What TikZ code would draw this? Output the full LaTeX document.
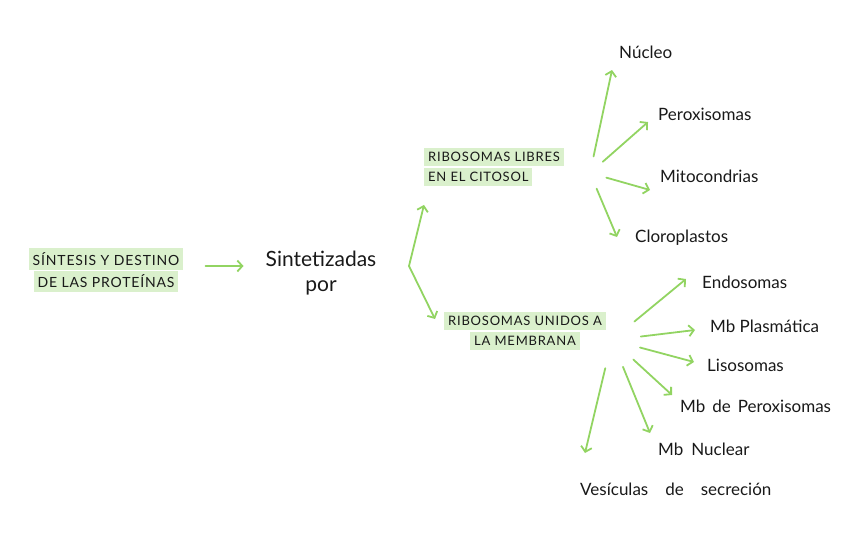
\documentclass[tikz,border=0pt]{standalone}
\usepackage{fontspec}
\setmainfont{Lato}
\newfontfamily\capsfont[LetterSpace=6]{Lato}
\usetikzlibrary{arrows.meta}

\definecolor{leaf}{RGB}{146,212,98}
\definecolor{marker}{RGB}{218,240,204}
\definecolor{ink}{RGB}{25,25,25}
\setlength{\fboxsep}{4pt}
\newcommand{\hilite}[1]{\colorbox{marker}{#1}}

\begin{document}
\begin{tikzpicture}[x=1pt, y=-1pt, >={Straight Barb[length=5pt,width=11pt]},
    caps/.style={font=\capsfont\fontsize{13}{20}\selectfont, text=ink, align=center, inner sep=0pt},
    hand/.style={font=\fontsize{17}{23}\selectfont, text=ink, anchor=west, inner sep=0pt},
    link/.style={->, draw=leaf, line width=1.8pt, line cap=round}]
    \useasboundingbox (0,0) rectangle (848,544);

    \node[caps, font=\capsfont\fontsize{14}{21}\selectfont] (T) at (106,270) {\hilite{SÍNTESIS Y DESTINO}\\\hilite{DE LAS PROTEÍNAS}};
    \node[hand, anchor=center, align=center, font=\fontsize{21}{25}\selectfont] (S) at (321,273) {Sintetizadas\\por};
    \node[caps, align=left] (L) at (494,167) {\hilite{RIBOSOMAS LIBRES}\\\hilite{EN EL CITOSOL}};
    \node[caps] (U) at (525,331) {\hilite{RIBOSOMAS UNIDOS A}\\\hilite{LA MEMBRANA}};

    \node[hand] (Nu) at (619,52) {Núcleo};
    \node[hand] (Pe) at (658,114) {Peroxisomas};
    \node[hand] (Mi) at (660,176) {Mitocondrias};
    \node[hand] (Cl) at (635,238) {Cloroplastos};

    \node[hand] (En) at (702,282) {Endosomas};
    \node[hand] (Pl) at (710,326) {Mb Plasmática};
    \node[hand] (Li) at (707,365) {Lisosomas};
    \node[hand] (MP) at (680,406) {\spaceskip=7pt Mb de Peroxisomas};
    \node[hand] (MN) at (658,449) {\spaceskip=8pt Mb Nuclear};
    \node[hand] (Ve) at (580,489) {\spaceskip=17pt Vesículas de secreción};

    \coordinate (J) at (409,266);
    \coordinate (HL) at (590,173);
    \coordinate (HU) at (612,340);

    \draw[link, shorten <=22pt, shorten >=22pt] ([yshift=4pt]T.east) -- ([yshift=4pt]T.east -| S.west);

    % bracket
    \draw[link] (J) -- ([yshift=-19pt]L.south west);
    \draw[link] (J) -- ([shift={(-9,-12)}]U.west);

    % libres
    \draw[link, shorten <=17pt] (HL) -- ([shift={(-7,18)}]Nu.west);
    \draw[link, shorten <=17pt] (HL) -- ([shift={(-10,8)}]Pe.west);
    \draw[link, shorten <=17pt] (HL) -- ([shift={(-10,14)}]Mi.west);
    \draw[link, shorten <=17pt] (HL) -- ([shift={(-18,-1)}]Cl.west);

    % unidos
    \draw[link, shorten <=29pt] (HU) -- ([shift={(-16,-3)}]En.west);
    \draw[link, shorten <=29pt] (HU) -- ([shift={(-15,4)}]Pl.west);
    \draw[link, shorten <=29pt] (HU) -- ([shift={(-13,-3)}]Li.west);
    \draw[link, shorten <=29pt] (HU) -- ([shift={(-8,-11)}]MP.west);
    \draw[link, shorten <=29pt] (HU) -- ([shift={(-8,-16)}]MN.west);
    \draw[link, shorten <=29pt] (HU) -- ([shift={(5,-36)}]Ve.west);
\end{tikzpicture}
\end{document}
